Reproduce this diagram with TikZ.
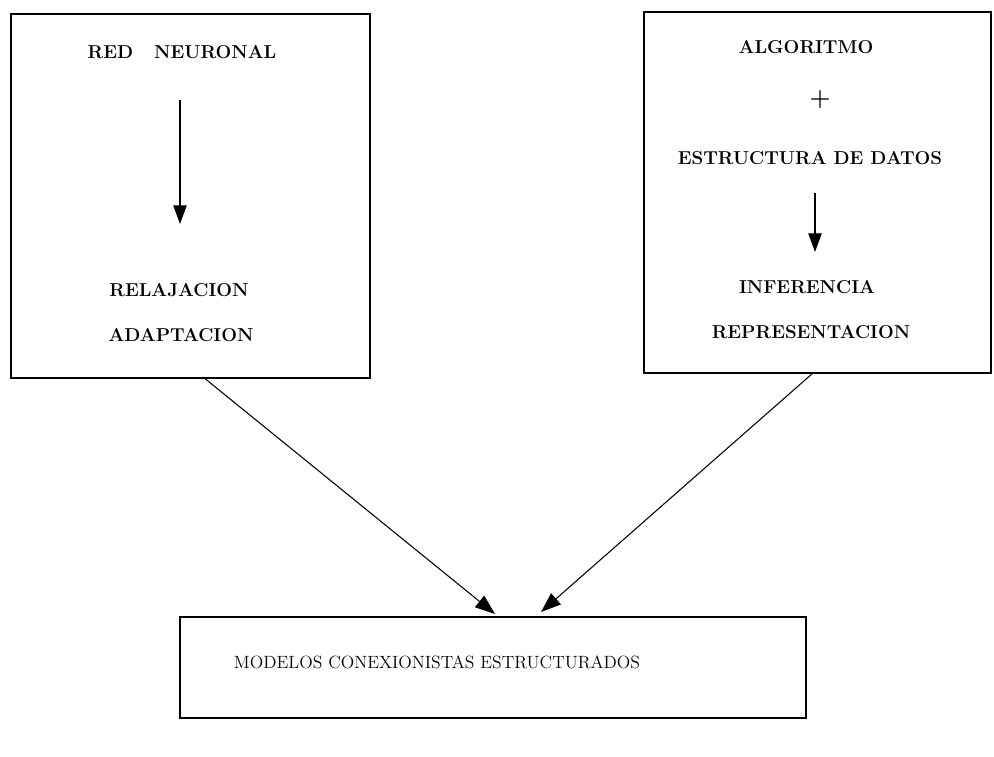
\documentclass[tikz,border=0pt]{standalone}
\usetikzlibrary{arrows.meta,calc}
\begin{document}
\begin{tikzpicture}[x=0.75pt,y=-0.75pt,
  box/.style={draw,line width=1pt,inner sep=0pt},
  lbl/.style={font=\fontsize{14}{16}\selectfont\bfseries},
  flow/.style={line width=0.9pt,-{Triangle[length=14pt,width=10pt]}},
  diag/.style={line width=0.8pt,-{Triangle[length=15pt,width=11pt]}}]
\useasboundingbox (0,0) rectangle (994,756);

% left box
\node[box,minimum width=359*0.75pt,minimum height=364*0.75pt] (L) at (190.5,196) {};
\node[lbl] (red) at (182,52) {RED\ \ \ NEURONAL};
\coordinate (la1) at (180,100);
\coordinate (la2) at (180,224);
\draw[flow] (la1) -- (la2);
\node[lbl] (rel) at (179,290) {RELAJACION};
\node[lbl] (ada) at (181,335) {ADAPTACION};

% right box
\node[box,minimum width=347*0.75pt,minimum height=361*0.75pt] (R) at (817.5,192.5) {};
\node[lbl] (alg) at (806,47) {ALGORITMO};
\node[font=\fontsize{18}{20}\selectfont\bfseries] (plus) at (820,100) {+};
\node[lbl] (est) at (810,158) {ESTRUCTURA DE DATOS};
\coordinate (ra1) at (815,193);
\coordinate (ra2) at (815,252);
\draw[flow] (ra1) -- (ra2);
\node[lbl] (inf) at (807,287) {INFERENCIA};
\node[lbl] (rep) at (811,332) {REPRESENTACION};

% bottom box
\node[box,minimum width=626*0.75pt,minimum height=101*0.75pt] (B) at (493,667.5) {};
\node[font=\fontsize{13.3}{15}\selectfont] (mod) at (437,662) {MODELOS CONEXIONISTAS ESTRUCTURADOS};

% diagonal connectors from the lower edges down to the bottom box
\coordinate (lstart) at (203,377);
\coordinate (rstart) at (813,373);
\coordinate (ltip) at (495,614);
\coordinate (rtip) at (541,612);
\draw[diag] (lstart) -- (ltip);
\draw[diag] (rstart) -- (rtip);
\end{tikzpicture}
\end{document}
